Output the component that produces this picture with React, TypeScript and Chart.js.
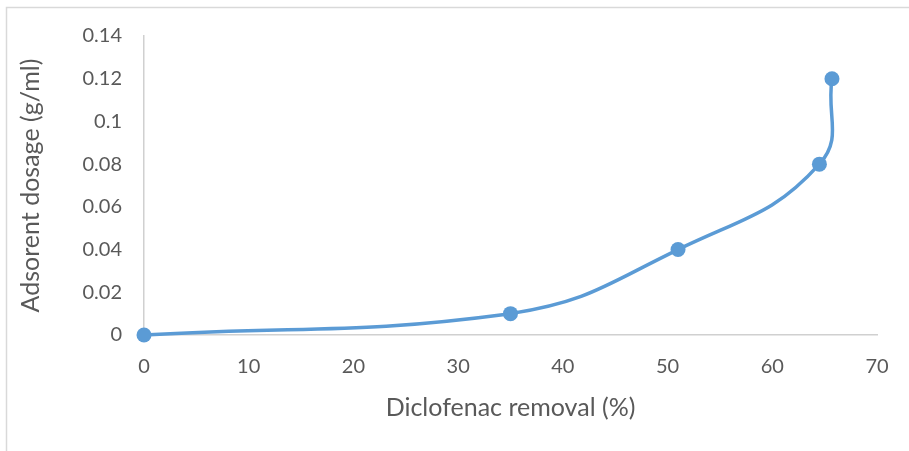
import React, { useEffect, useRef } from "react";
import { Chart, registerables } from "chart.js";

Chart.register(...registerables);

const removal: number[] = [0, 35, 51, 64.5, 65.7];
const dosage: number[] = [0, 0.01, 0.04, 0.08, 0.12];
const xTicks: number[] = [0, 10, 20, 30, 40, 50, 60, 70];
const yTicks: number[] = [0, 0.02, 0.04, 0.06, 0.08, 0.1, 0.12, 0.14];
const xTitle = "Diclofenac removal (%)";
const yTitle = "Adsorent dosage (g/ml)";

const FONT = "Lato";
const TXT = "#595959";

const framePlugin = {
  id: "frame",
  beforeDraw(chart: any) {
    const ctx = chart.ctx;
    ctx.save();
    ctx.strokeStyle = "#d9d9d9";
    ctx.lineWidth = 1.5;
    ctx.strokeRect(6.5, 7.5, chart.width + 20, chart.height + 20);
    ctx.restore();
  },
};

export default function App() {
  const ref = useRef<HTMLCanvasElement | null>(null);
  useEffect(() => {
    document.body.style.margin = "0";
    const canvas = ref.current!;
    const chart = new Chart(canvas, {
      type: "scatter",
      data: {
        datasets: [
          {
            data: removal.map((x, i) => ({ x, y: dosage[i] })),
            showLine: true,
            tension: 0.45,
            borderColor: "#5B9BD5",
            backgroundColor: "#5B9BD5",
            borderWidth: 3.5,
            pointRadius: 7.5,
            pointHoverRadius: 7.5,
            pointBorderWidth: 0,
            clip: false,
          } as any,
        ],
      },
      options: {
        responsive: false,
        animation: false,
        layout: { padding: { left: 16, right: 32, top: 36, bottom: 28 } },
        plugins: { legend: { display: false }, tooltip: { enabled: false } },
        scales: {
          x: {
            type: "linear",
            min: 0,
            max: 70,
            afterBuildTicks: (axis: any) => {
              axis.ticks = xTicks.map((v) => ({ value: v }));
            },
            afterFit: (axis: any) => {
              axis.height = 88;
            },
            grid: { display: false, drawTicks: false },
            border: { display: true, color: "#d0d0d0", width: 1.5 },
            ticks: {
              padding: 20,
              color: TXT,
              font: { family: FONT, size: 20 },
              maxRotation: 0,
            },
            title: {
              display: true,
              text: xTitle,
              color: TXT,
              font: { family: FONT, size: 25 },
              padding: { top: 0, bottom: 0 },
            },
          },
          y: {
            type: "linear",
            min: 0,
            max: 0.14,
            afterBuildTicks: (axis: any) => {
              axis.ticks = yTicks.map((v) => ({ value: v }));
            },
            afterFit: (axis: any) => {
              axis.width = 128;
            },
            grid: { display: false, drawTicks: false },
            border: { display: true, color: "#d0d0d0", width: 1.5 },
            ticks: {
              padding: 22,
              color: TXT,
              font: { family: FONT, size: 20 },
              callback: (v: any) => String(Math.round(Number(v) * 100) / 100),
            },
            title: {
              display: true,
              text: yTitle,
              color: TXT,
              font: { family: FONT, size: 25 },
              padding: { top: 0, bottom: 0 },
            },
          },
        },
      },
      plugins: [framePlugin],
    });
    return () => chart.destroy();
  }, []);
  return (
    <div style={{ width: 909, height: 451, background: "#fff" }}>
      <canvas ref={ref} width={909} height={451} style={{ display: "block" }} />
    </div>
  );
}
